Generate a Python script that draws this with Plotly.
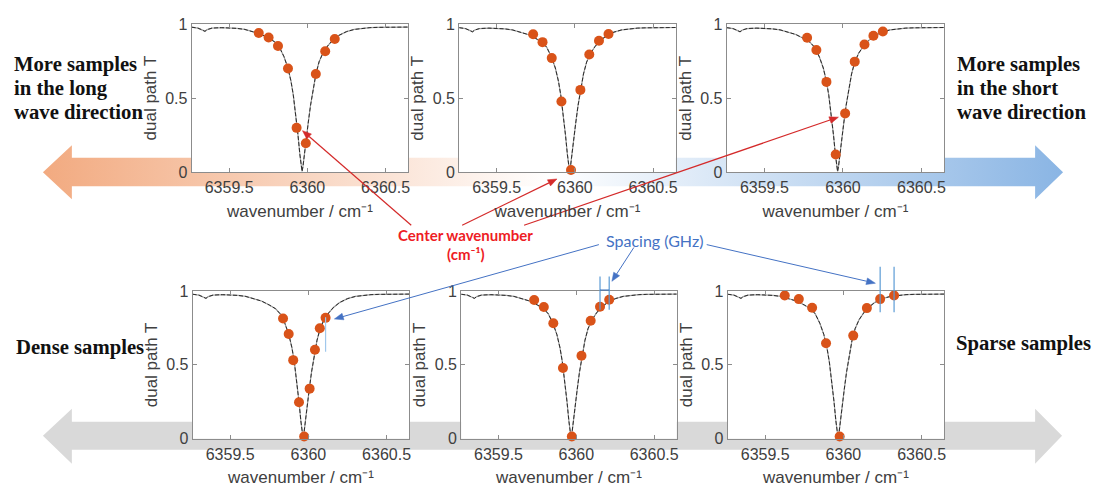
import base64
import math
import plotly.graph_objects as go

W, H = 1097, 497

# ---------------- data ----------------
curve_wn = [6359.260, 6359.300, 6359.330, 6359.345, 6359.360, 6359.390, 6359.450, 6359.500,
            6359.550, 6359.600, 6359.650, 6359.700, 6359.750, 6359.790, 6359.820, 6359.850,
            6359.875, 6359.895, 6359.910, 6359.925, 6359.940, 6359.952, 6359.960, 6359.966,
            6359.972, 6359.980, 6359.990, 6360.005, 6360.020, 6360.035, 6360.055, 6360.075,
            6360.100, 6360.130, 6360.160, 6360.200, 6360.250, 6360.300, 6360.350, 6360.400,
            6360.450, 6360.500, 6360.550, 6360.645]
curve_T = [0.978, 0.972, 0.958, 0.950, 0.962, 0.972, 0.975, 0.974,
           0.970, 0.963, 0.950, 0.932, 0.905, 0.880, 0.845, 0.780,
           0.705, 0.615, 0.520, 0.400, 0.250, 0.120, 0.040, 0.005,
           0.040, 0.120, 0.215, 0.330, 0.450, 0.555, 0.665, 0.745,
           0.805, 0.852, 0.888, 0.922, 0.948, 0.963, 0.971, 0.975,
           0.977, 0.978, 0.979, 0.979]

p1_wn = [6359.689, 6359.752, 6359.812, 6359.876, 6359.931, 6359.990, 6360.054, 6360.114, 6360.175]
p1_T = [0.939, 0.909, 0.851, 0.699, 0.299, 0.195, 0.662, 0.816, 0.898]
p2_wn = [6359.733, 6359.793, 6359.852, 6359.914, 6359.975, 6360.035, 6360.092, 6360.154, 6360.215]
p2_T = [0.933, 0.880, 0.772, 0.478, 0.015, 0.557, 0.796, 0.890, 0.935]
p3_wn = [6359.772, 6359.831, 6359.895, 6359.954, 6360.014, 6360.075, 6360.137, 6360.194, 6360.254]
p3_T = [0.910, 0.827, 0.611, 0.120, 0.398, 0.748, 0.864, 0.923, 0.952]
p4_wn = [6359.838, 6359.874, 6359.903, 6359.940, 6359.973, 6360.008, 6360.042, 6360.073, 6360.110]
p4_T = [0.814, 0.709, 0.532, 0.247, 0.015, 0.339, 0.602, 0.748, 0.818]
p5_wn = [6359.729, 6359.791, 6359.852, 6359.914, 6359.971, 6360.033, 6360.092, 6360.152, 6360.211]
p5_T = [0.939, 0.891, 0.781, 0.479, 0.015, 0.562, 0.799, 0.893, 0.941]
p6_wn = [6359.625, 6359.715, 6359.800, 6359.889, 6359.976, 6360.063, 6360.150, 6360.235, 6360.324]
p6_T = [0.969, 0.945, 0.886, 0.646, 0.015, 0.698, 0.884, 0.945, 0.969]

x_tickvals = [6359.5, 6360, 6360.5]
x_ticktext = ["6359.5", "6360", "6360.5"]
y_tickvals = [0, 0.5, 1]
y_ticktext = ["0", "0.5", "1"]
x_range = [6359.26, 6360.645]
y_range = [0, 1]

samples = [(p1_wn, p1_T), (p2_wn, p2_T), (p3_wn, p3_T),
           (p4_wn, p4_T), (p5_wn, p5_T), (p6_wn, p6_T)]

# ---------------- layout helpers ----------------
def PX(x):
    return x / W

def PY(y):
    return 1 - y / H

# panel plot-area boxes in page pixels: left, right, top, bottom
boxes = [(192, 409, 16.5, 170), (460, 677, 17, 170), (728, 946, 17, 170),
         (193, 410, 293, 446), (462, 678, 293, 446), (729, 946, 293, 446)]

ORANGE = "#D95319"
TICKFONT = dict(family="Liberation Sans, Arial", size=16, color="#404040")
TITLEFONT = dict(family="Liberation Sans, Arial", size=17, color="#404040")

fig = go.Figure()
layout = dict(width=W, height=H, autosize=False,
              margin=dict(l=0, r=0, t=0, b=0, pad=0),
              paper_bgcolor="white", plot_bgcolor="rgba(0,0,0,0)",
              showlegend=False)

shapes = []
for i, ((wn, T), (l, r, t, b)) in enumerate(zip(samples, boxes)):
    n = "" if i == 0 else str(i + 1)
    xa, ya = "x" + n, "y" + n
    fig.add_trace(go.Scatter(x=curve_wn, y=curve_T, mode="lines", xaxis=xa, yaxis=ya,
                             line=dict(color="#a0a0a0", width=1.2), hoverinfo="skip"))
    fig.add_trace(go.Scatter(x=curve_wn, y=curve_T, mode="lines", xaxis=xa, yaxis=ya,
                             line=dict(color="#2a2a2a", width=1, dash="4px,2px"), hoverinfo="skip"))
    fig.add_trace(go.Scatter(x=wn, y=T, mode="markers", xaxis=xa, yaxis=ya, cliponaxis=False,
                             marker=dict(color=ORANGE, size=10, line=dict(width=0))))
    layout["xaxis" + n] = dict(domain=[PX(l), PX(r)], anchor=ya, range=x_range,
                               tickmode="array", tickvals=x_tickvals, ticktext=x_ticktext,
                               ticks="inside", ticklen=4, tickcolor="#8c8c8c",
                               showline=True, linecolor="#8c8c8c", linewidth=1, mirror="ticks",
                               showgrid=False, zeroline=False, tickfont=TICKFONT,
                               ticklabelstandoff=1,
                               title=dict(text="wavenumber / cm\u207b\u00b9", font=TITLEFONT,
                                          standoff=9))
    layout["yaxis" + n] = dict(domain=[PY(b), PY(t)], anchor=xa, range=y_range,
                               tickmode="array", tickvals=y_tickvals, ticktext=y_ticktext,
                               ticks="inside", ticklen=4, tickcolor="#8c8c8c",
                               showline=True, linecolor="#8c8c8c", linewidth=1, mirror="ticks",
                               showgrid=False, zeroline=False, tickfont=TICKFONT,
                               title=dict(text="dual path T", font=TITLEFONT, standoff=4))
    # white plot background above the arrow image
    shapes.append(dict(type="rect", xref="paper", yref="paper", x0=PX(l), x1=PX(r),
                       y0=PY(b), y1=PY(t), fillcolor="white", line=dict(width=0), layer="below"))

# ---------------- background arrows (svg image with gradient) ----------------
def arrow_pts(tipL, tipR, baseL, baseR, yc, bt, bb, ht, hb):
    pts = [(tipL, yc), (baseL, ht), (baseL, bt), (baseR, bt), (baseR, ht), (tipR, yc),
           (baseR, hb), (baseR, bb), (baseL, bb), (baseL, hb)]
    return " ".join(f"{x},{y}" for x, y in pts)

top_arrow = arrow_pts(43, 1065, 72, 1037, 170, 155, 184.5, 142, 198)
bot_arrow = arrow_pts(43, 1064, 72, 1037, 443, 428.5, 457.5, 415, 472)
svg = f'''<svg xmlns="http://www.w3.org/2000/svg" width="{W}" height="{H}" viewBox="0 0 {W} {H}">
<defs><linearGradient id="g" x1="43" y1="0" x2="1065" y2="0" gradientUnits="userSpaceOnUse">
<stop offset="0" stop-color="rgb(242,170,128)"/>
<stop offset="0.5" stop-color="rgb(255,255,255)"/>
<stop offset="1" stop-color="rgb(138,181,228)"/></linearGradient></defs>
<polygon points="{top_arrow}" fill="url(#g)"/>
<polygon points="{bot_arrow}" fill="rgb(217,217,217)"/>
</svg>'''
src = "data:image/svg+xml;base64," + base64.b64encode(svg.encode()).decode()
layout["images"] = [dict(source=src, xref="paper", yref="paper", x=0, y=1, sizex=1, sizey=1,
                         xanchor="left", yanchor="top", sizing="stretch", layer="below")]

# ---------------- spacing markers ----------------
LB = "rgb(91,155,213)"
shapes += [
    dict(type="line", xref="x4", yref="y4", x0=p4_wn[8], x1=p4_wn[8], y0=0.588, y1=0.823,
         line=dict(color="rgb(160,200,236)", width=1.2)),
    dict(type="line", xref="x5", yref="paper", x0=p5_wn[7], x1=p5_wn[7], y0=PY(312.5), y1=PY(278),
         line=dict(color=LB, width=1.2)),
    dict(type="line", xref="x5", yref="paper", x0=p5_wn[8], x1=p5_wn[8], y0=PY(312.5), y1=PY(278),
         line=dict(color=LB, width=1.2)),
    dict(type="line", xref="x5", yref="paper", x0=p5_wn[7], x1=p5_wn[8], y0=PY(292), y1=PY(292),
         line=dict(color="rgb(50,110,190)", width=1)),
    dict(type="line", xref="x6", yref="paper", x0=p6_wn[7], x1=p6_wn[7], y0=PY(315), y1=PY(268),
         line=dict(color=LB, width=1.2)),
    dict(type="line", xref="x6", yref="paper", x0=p6_wn[8], x1=p6_wn[8], y0=PY(315), y1=PY(268),
         line=dict(color=LB, width=1.2)),
]

# ---------------- pointer arrows (line + filled head) ----------------
def pointer(hx, hy, tx, ty, color, width, hl=9, hw=3.5):
    dx, dy = hx - tx, hy - ty
    d = math.hypot(dx, dy)
    ux, uy = dx / d, dy / d
    bx, by = hx - ux * hl, hy - uy * hl
    px_, py_ = -uy * hw, ux * hw
    shapes.append(dict(type="line", xref="paper", yref="paper",
                       x0=PX(tx), y0=PY(ty), x1=PX(bx), y1=PY(by),
                       line=dict(color=color, width=width)))
    path = (f"M {PX(hx)},{PY(hy)} L {PX(bx + px_)},{PY(by + py_)} "
            f"L {PX(bx - px_)},{PY(by - py_)} Z")
    shapes.append(dict(type="path", xref="paper", yref="paper", path=path,
                       fillcolor=color, line=dict(color=color, width=0.5)))

pointer(303, 127, 412, 225, "#D42A2A", 1.2)
pointer(558, 177, 463, 225, "#D42A2A", 1.2)
pointer(840, 113, 525, 225, "#D42A2A", 1.2)
pointer(335, 322, 600, 245, "#4472C4", 1)
pointer(613, 283, 635, 248, "#4472C4", 1)
pointer(877, 285, 708, 245, "#4472C4", 1)
layout["shapes"] = shapes

# ---------------- annotations ----------------
SERIF = dict(family="Liberation Serif", size=20.7, color="#111111")
ann = []
def text(x, y, s, font, xanchor="left"):
    ann.append(dict(x=PX(x), y=PY(y), xref="paper", yref="paper", text=s, showarrow=False,
                    xanchor=xanchor, yanchor="middle", font=font))

for yy, s in zip([58, 83, 108], ["<b>More samples</b>", "<b>in the long</b>", "<b>wave direction</b>"]):
    text(12.5, yy, s, SERIF)
for yy, s in zip([58, 83, 108], ["<b>More samples</b>", "<b>in the short</b>", "<b>wave direction</b>"]):
    text(957, yy, s, SERIF)
text(14, 352, "<b>Dense samples</b>", SERIF)
text(956, 347, "<b>Sparse samples</b>", SERIF)

RED = dict(family="Lato, Open Sans", size=15, color="#EE1C25")
BLUE = dict(family="Lato, Open Sans", size=16, color="#4472C4")
text(466.5, 235, "<b>Center wavenumber</b>", RED, "center")
text(466.5, 255, "<b>(cm\u207b\u00b9)</b>", RED, "center")
text(655.5, 241, "Spacing (GHz)", BLUE, "center")
layout["annotations"] = ann

fig.update_layout(**layout)
fig.write_html("out.html")
